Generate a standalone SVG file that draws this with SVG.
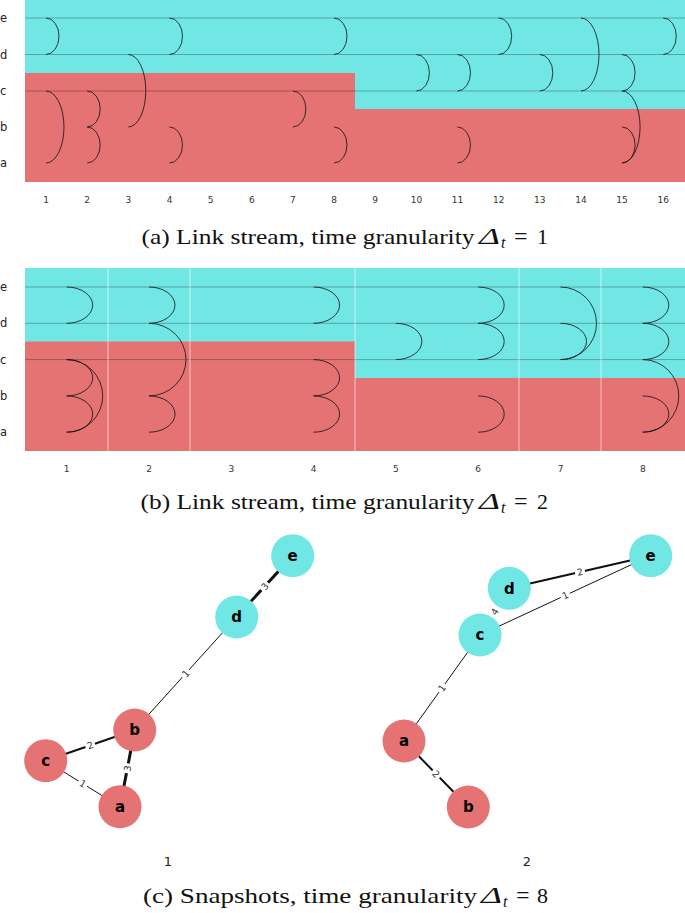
<svg xmlns="http://www.w3.org/2000/svg" width="685" height="913" viewBox="0 0 685 913">
<style>
.red{fill:#e57373}
.cy{fill:#71e7e5}
.row{stroke:#000;stroke-opacity:0.28;stroke-width:1;fill:none}
.sep{stroke:#fff;stroke-opacity:0.6;stroke-width:1}
.arc{stroke:#111;stroke-width:0.9;fill:none;stroke-opacity:0.9}
.tick{font-family:"DejaVu Sans",sans-serif;font-size:9px;fill:#333;text-anchor:middle}
.rl{font-family:"DejaVu Sans",sans-serif;font-size:11.5px;fill:#222}
.cap{font-family:"Liberation Serif",serif;font-size:22px;fill:#111}
.big{font-size:24px}
.sub{font-size:16px}
.it{font-style:italic}
.edge{stroke:#111;fill:none}
.el rect{fill:#fff}
.el text{font-family:"DejaVu Sans",sans-serif;font-size:9.5px;fill:#333;text-anchor:middle}
.nl{font-family:"DejaVu Sans",sans-serif;font-size:15px;font-weight:bold;fill:#000;text-anchor:middle}
.sl{font-family:"DejaVu Sans",sans-serif;font-size:13px;fill:#222;text-anchor:middle}
</style>

<!-- Panel (a) -->
<g id="panel-a">
<rect class="red" x="25" y="0" width="660" height="182"/>
<rect class="cy" x="25" y="0" width="330" height="73"/>
<rect class="cy" x="355" y="0" width="330" height="109"/>
<line class="row" x1="25" y1="18" x2="685" y2="18"/>
<line class="row" x1="25" y1="54.5" x2="685" y2="54.5"/>
<line class="row" x1="25" y1="91" x2="685" y2="91"/>
<text class="rl" x="0" y="22">e</text>
<text class="rl" x="0" y="58.5">d</text>
<text class="rl" x="0" y="95">c</text>
<text class="rl" x="0" y="131">b</text>
<text class="rl" x="0" y="167">a</text>
<text class="tick" x="46" y="203">1</text>
<text class="tick" x="87.2" y="203">2</text>
<text class="tick" x="128.3" y="203">3</text>
<text class="tick" x="169.5" y="203">4</text>
<text class="tick" x="210.6" y="203">5</text>
<text class="tick" x="251.8" y="203">6</text>
<text class="tick" x="292.9" y="203">7</text>
<text class="tick" x="334" y="203">8</text>
<text class="tick" x="375.2" y="203">9</text>
<text class="tick" x="416.4" y="203">10</text>
<text class="tick" x="457.5" y="203">11</text>
<text class="tick" x="498.7" y="203">12</text>
<text class="tick" x="539.8" y="203">13</text>
<text class="tick" x="581" y="203">14</text>
<text class="tick" x="622.1" y="203">15</text>
<text class="tick" x="663.3" y="203">16</text>
</g>
<g id="links-a">
<path class="arc" d="M46,18 A13,18.25 0 0 1 46,54.5"/>
<path class="arc" d="M46,91 A18,36 0 0 1 46,163"/>
<path class="arc" d="M87.2,91 A13,18 0 0 1 87.2,127"/>
<path class="arc" d="M87.2,127 A13,18 0 0 1 87.2,163"/>
<path class="arc" d="M128.3,54.5 A17.5,36.25 0 0 1 128.3,127"/>
<path class="arc" d="M169.5,18 A13,18.25 0 0 1 169.5,54.5"/>
<path class="arc" d="M169.5,127 A13,18 0 0 1 169.5,163"/>
<path class="arc" d="M292.9,91 A13,18 0 0 1 292.9,127"/>
<path class="arc" d="M334,18 A13,18.25 0 0 1 334,54.5"/>
<path class="arc" d="M334,127 A13,18 0 0 1 334,163"/>
<path class="arc" d="M416.4,54.5 A13,18.25 0 0 1 416.4,91"/>
<path class="arc" d="M457.5,54.5 A13,18.25 0 0 1 457.5,91"/>
<path class="arc" d="M457.5,127 A13,18 0 0 1 457.5,163"/>
<path class="arc" d="M498.7,18 A13,18.25 0 0 1 498.7,54.5"/>
<path class="arc" d="M539.8,54.5 A13,18.25 0 0 1 539.8,91"/>
<path class="arc" d="M581,18 A18,36.5 0 0 1 581,91"/>
<path class="arc" d="M622.1,54.5 A13,18.25 0 0 1 622.1,91"/>
<path class="arc" d="M622.1,91 A18,36 0 0 1 622.1,163"/>
<path class="arc" d="M622.1,127 A13,18 0 0 1 622.1,163"/>
<path class="arc" d="M663.3,18 A13,18.25 0 0 1 663.3,54.5"/>
</g>
<text class="cap" x="141.5" y="244" textLength="333" lengthAdjust="spacingAndGlyphs">(a) Link stream, time granularity</text>
<text class="cap it big" x="479" y="244" textLength="21" lengthAdjust="spacingAndGlyphs">Δ</text>
<text class="cap it sub" x="501" y="248">t</text>
<text class="cap big" x="514" y="244">=</text>
<text class="cap" x="537" y="244">1</text>

<!-- Panel (b) -->
<g id="panel-b">
<rect class="red" x="25" y="268" width="660" height="183"/>
<rect class="cy" x="25" y="268" width="330" height="73.5"/>
<rect class="cy" x="355" y="268" width="330" height="110"/>
<line class="row" x1="25" y1="287" x2="685" y2="287"/>
<line class="row" x1="25" y1="323.3" x2="685" y2="323.3"/>
<line class="row" x1="25" y1="359.6" x2="685" y2="359.6"/>
<line class="sep" x1="108" y1="268" x2="108" y2="451"/>
<line class="sep" x1="190" y1="268" x2="190" y2="451"/>
<line class="sep" x1="355" y1="268" x2="355" y2="451"/>
<line class="sep" x1="519" y1="268" x2="519" y2="451"/>
<line class="sep" x1="601" y1="268" x2="601" y2="451"/>
<text class="rl" x="0" y="291">e</text>
<text class="rl" x="0" y="327.3">d</text>
<text class="rl" x="0" y="363.6">c</text>
<text class="rl" x="0" y="400">b</text>
<text class="rl" x="0" y="436.2">a</text>
<text class="tick" x="66.7" y="472">1</text>
<text class="tick" x="149" y="472">2</text>
<text class="tick" x="231.3" y="472">3</text>
<text class="tick" x="313.6" y="472">4</text>
<text class="tick" x="395.9" y="472">5</text>
<text class="tick" x="478.2" y="472">6</text>
<text class="tick" x="560.5" y="472">7</text>
<text class="tick" x="642.8" y="472">8</text>
</g>
<g id="links-b">
<path class="arc" d="M66.7,287 A26,18.15 0 0 1 66.7,323.3"/>
<path class="arc" d="M66.7,359.6 A26,18.15 0 0 1 66.7,395.9"/>
<path class="arc" d="M66.7,395.9 A26,18.15 0 0 1 66.7,432.2"/>
<path class="arc" d="M66.7,359.6 A36,36.3 0 0 1 66.7,432.2"/>
<path class="arc" d="M149,287 A26,18.15 0 0 1 149,323.3"/>
<path class="arc" d="M149,323.3 A37,36.3 0 0 1 149,395.9"/>
<path class="arc" d="M149,395.9 A26,18.15 0 0 1 149,432.2"/>
<path class="arc" d="M313.6,287 A26,18.15 0 0 1 313.6,323.3"/>
<path class="arc" d="M313.6,359.6 A26,18.15 0 0 1 313.6,395.9"/>
<path class="arc" d="M313.6,395.9 A26,18.15 0 0 1 313.6,432.2"/>
<path class="arc" d="M395.9,323.3 A26,18.15 0 0 1 395.9,359.6"/>
<path class="arc" d="M478.2,287 A26,18.15 0 0 1 478.2,323.3"/>
<path class="arc" d="M478.2,323.3 A26,18.15 0 0 1 478.2,359.6"/>
<path class="arc" d="M478.2,395.9 A26,18.15 0 0 1 478.2,432.2"/>
<path class="arc" d="M560.5,323.3 A26,18.15 0 0 1 560.5,359.6"/>
<path class="arc" d="M560.5,287 A36,36.3 0 0 1 560.5,359.6"/>
<path class="arc" d="M642.8,287 A26,18.15 0 0 1 642.8,323.3"/>
<path class="arc" d="M642.8,323.3 A26,18.15 0 0 1 642.8,359.6"/>
<path class="arc" d="M642.8,359.6 A36,36.3 0 0 1 642.8,432.2"/>
<path class="arc" d="M642.8,395.9 A26,18.15 0 0 1 642.8,432.2"/>
</g>
<text class="cap" x="140.5" y="508.5" textLength="334" lengthAdjust="spacingAndGlyphs">(b) Link stream, time granularity</text>
<text class="cap it big" x="479" y="508.5" textLength="21" lengthAdjust="spacingAndGlyphs">Δ</text>
<text class="cap it sub" x="501" y="512.5">t</text>
<text class="cap big" x="514" y="508.5">=</text>
<text class="cap" x="537" y="508.5">2</text>

<!-- Panel (c) connectors -->
<g id="edges-c">
<line class="edge" x1="236.7" y1="617" x2="292.7" y2="555.7" stroke-width="3"/>
<line class="edge" x1="236.7" y1="617" x2="134.7" y2="730" stroke-width="1"/>
<line class="edge" x1="134.7" y1="730" x2="45.7" y2="760.7" stroke-width="2"/>
<line class="edge" x1="134.7" y1="730" x2="120" y2="806.7" stroke-width="3"/>
<line class="edge" x1="45.7" y1="760.7" x2="120" y2="806.7" stroke-width="1"/>
<line class="edge" x1="509.3" y1="588.3" x2="650.7" y2="555.7" stroke-width="2"/>
<line class="edge" x1="480" y1="635" x2="650.7" y2="555.7" stroke-width="1"/>
<line class="edge" x1="480" y1="635" x2="509.3" y2="588.3" stroke-width="4"/>
<line class="edge" x1="480" y1="635" x2="404" y2="741" stroke-width="1"/>
<line class="edge" x1="404" y1="741" x2="468.3" y2="807" stroke-width="2"/>
<g class="el" transform="translate(264.7,586.4) rotate(-47.6)"><rect x="-5" y="-6" width="10" height="12"/><text y="3.5">3</text></g>
<g class="el" transform="translate(185.7,673.5) rotate(-47.9)"><rect x="-5" y="-6" width="10" height="12"/><text y="3.5">1</text></g>
<g class="el" transform="translate(90.2,745.3) rotate(-19)"><rect x="-5" y="-6" width="10" height="12"/><text y="3.5">2</text></g>
<g class="el" transform="translate(127.3,768.3) rotate(-79)"><rect x="-5" y="-6" width="10" height="12"/><text y="3.5">3</text></g>
<g class="el" transform="translate(82.8,783.7) rotate(31.8)"><rect x="-5" y="-6" width="10" height="12"/><text y="3.5">1</text></g>
<g class="el" transform="translate(580,572) rotate(-13)"><rect x="-5" y="-6" width="10" height="12"/><text y="3.5">2</text></g>
<g class="el" transform="translate(565.3,595.3) rotate(-24.9)"><rect x="-5" y="-6" width="10" height="12"/><text y="3.5">1</text></g>
<g class="el" transform="translate(494.7,611.7) rotate(-57.9)"><rect x="-8" y="-7" width="16" height="14"/><text y="3.5">4</text></g>
<g class="el" transform="translate(442,688) rotate(-54.4)"><rect x="-5" y="-6" width="10" height="12"/><text y="3.5">1</text></g>
<g class="el" transform="translate(436.2,774) rotate(45.7)"><rect x="-5" y="-6" width="10" height="12"/><text y="3.5">2</text></g>
</g>

<!-- Snapshot 1 nodes -->
<g id="s1-e"><circle class="cy" cx="292.7" cy="555.7" r="21.5"/><text class="nl" x="292.7" y="561">e</text></g>
<g id="s1-d"><circle class="cy" cx="236.7" cy="617" r="21.5"/><text class="nl" x="236.7" y="622.3">d</text></g>
<g id="s1-b"><circle class="red" cx="134.7" cy="730" r="21.5"/><text class="nl" x="134.7" y="735.3">b</text></g>
<g id="s1-c"><circle class="red" cx="45.7" cy="760.7" r="21.5"/><text class="nl" x="45.7" y="766">c</text></g>
<g id="s1-a"><circle class="red" cx="120" cy="806.7" r="21.5"/><text class="nl" x="120" y="812">a</text></g>

<!-- Snapshot 2 nodes -->
<g id="s2-e"><circle class="cy" cx="650.7" cy="555.7" r="21.5"/><text class="nl" x="650.7" y="561">e</text></g>
<g id="s2-d"><circle class="cy" cx="509.3" cy="588.3" r="21.5"/><text class="nl" x="509.3" y="593.6">d</text></g>
<g id="s2-c"><circle class="cy" cx="480" cy="635" r="21.5"/><text class="nl" x="480" y="640.3">c</text></g>
<g id="s2-a"><circle class="red" cx="404" cy="741" r="21.5"/><text class="nl" x="404" y="746.3">a</text></g>
<g id="s2-b"><circle class="red" cx="468.3" cy="807" r="21.5"/><text class="nl" x="468.3" y="812.3">b</text></g>

<text class="sl" x="168" y="866">1</text>
<text class="sl" x="527" y="866">2</text>

<text class="cap" x="143" y="903" textLength="334" lengthAdjust="spacingAndGlyphs">(c) Snapshots, time granularity</text>
<text class="cap it big" x="481" y="903" textLength="21" lengthAdjust="spacingAndGlyphs">Δ</text>
<text class="cap it sub" x="503" y="907">t</text>
<text class="cap big" x="516" y="903">=</text>
<text class="cap" x="537" y="903">8</text>
</svg>
